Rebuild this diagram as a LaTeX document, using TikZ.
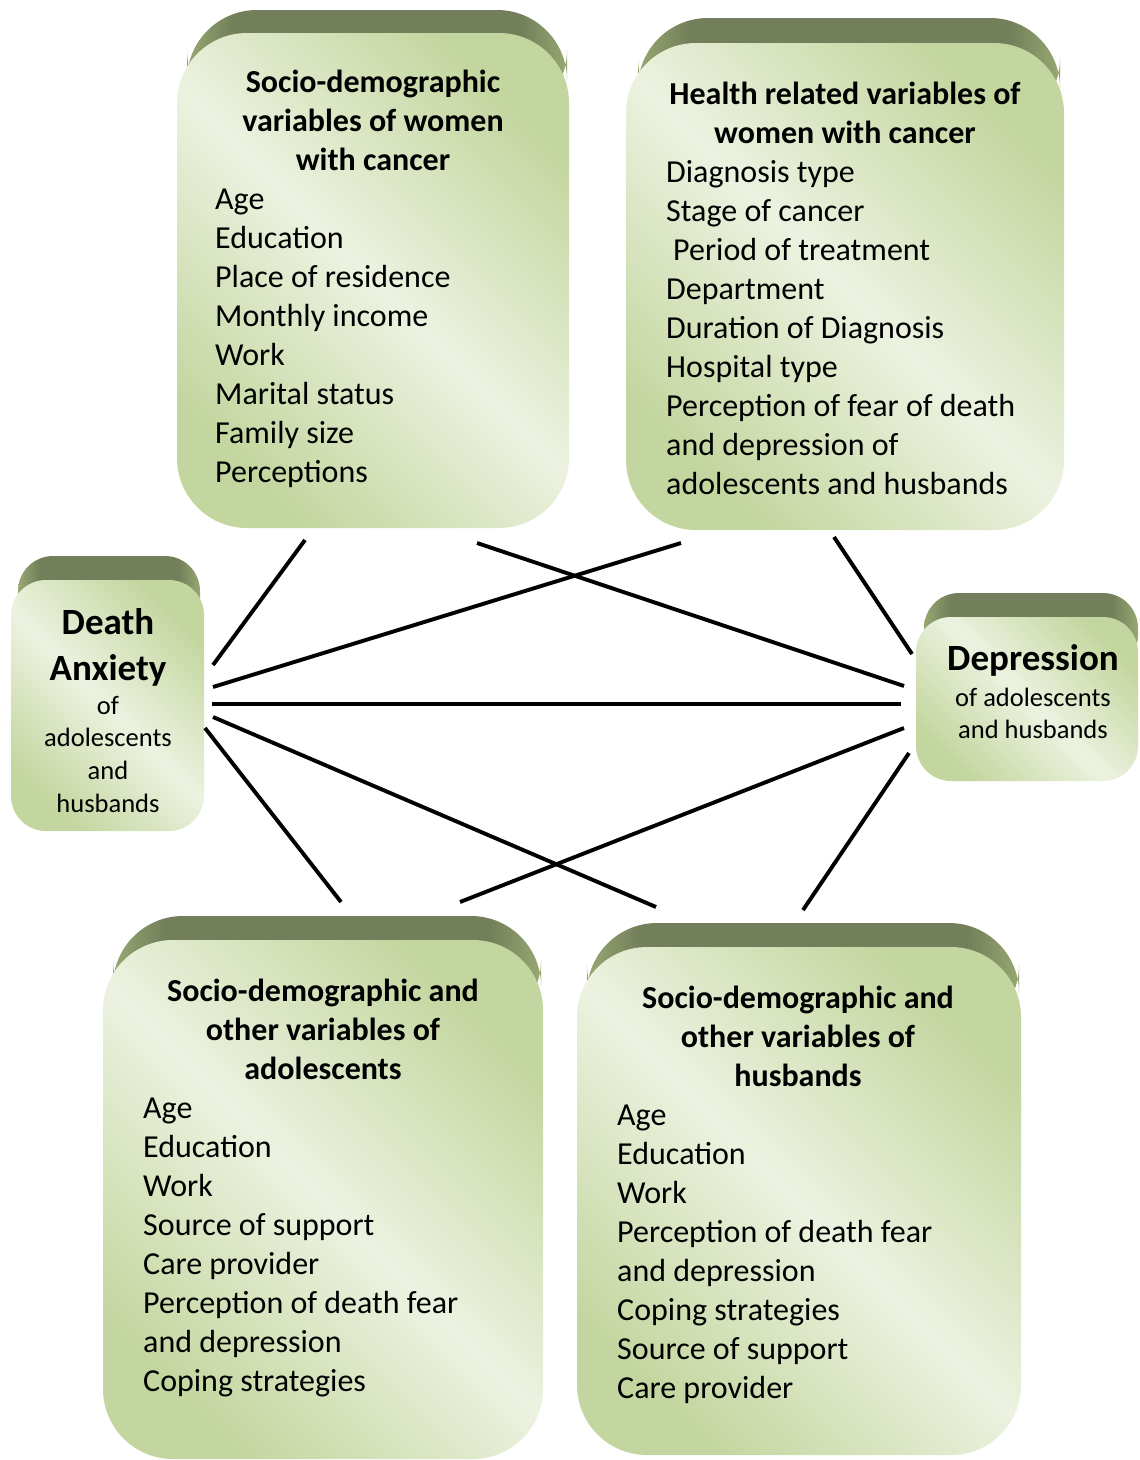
\documentclass[tikz,border=0pt]{standalone}
\usepackage{fontspec}
\setmainfont{Carlito}
\definecolor{glight}{HTML}{ECF2E0}
\definecolor{gdark}{HTML}{C4D69F}
\definecolor{tabdark}{HTML}{737F5A}
\definecolor{tabedge}{HTML}{97A872}
\pgfdeclarehorizontalshading{tabshade}{100bp}{color(0bp)=(tabedge); color(25bp)=(tabedge); color(31bp)=(tabdark); color(69bp)=(tabdark); color(75bp)=(tabedge); color(100bp)=(tabedge)}
\tikzset{
  panel/.style={rounded corners=#1, top color=gdark, bottom color=gdark, middle color=glight, shading angle=-45, inner sep=0pt, draw=none},
  tab/.style={rounded corners=#1, shading=tabshade, draw=none},
  item/.style={font=\fontsize{32}{39}\selectfont, inner sep=0pt, anchor=base west},
  head/.style={font=\fontsize{32}{39}\selectfont\bfseries, inner sep=0pt, anchor=base},
  bighead/.style={font=\fontsize{37}{46}\selectfont\bfseries, inner sep=0pt, anchor=base},
  sub/.style={font=\fontsize{26.5}{32.5}\selectfont, inner sep=0pt, anchor=base},
  conn/.style={line width=3.9pt, black}
}
\begin{document}
\begin{tikzpicture}[x=1pt,y=-1pt]
\useasboundingbox (0,0) rectangle (1140,1460);
% back tabs
\path[tab=70pt] (187,10) rectangle (567,120);
\path[tab=70pt] (638,18) rectangle (1060,128);
\path[tab=35pt] (18,556) rectangle (200,640);
\path[tab=35pt] (924,593) rectangle (1138,670);
\path[tab=70pt] (113,916) rectangle (541,1030);
\path[tab=70pt] (587,923) rectangle (1019,1035);
% front panels
\node[panel=70pt, minimum width=392pt, minimum height=495pt] (sdw) at (373,280.5) {};
\node[panel=70pt, minimum width=438pt, minimum height=487pt] (hrv) at (845,286.5) {};
\node[panel=35pt, minimum width=193pt, minimum height=251pt] (da) at (107.5,705.5) {};
\node[panel=35pt, minimum width=222pt, minimum height=164pt] (dep) at (1027,699) {};
\node[panel=70pt, minimum width=440pt, minimum height=519pt] (ado) at (323,1199.5) {};
\node[panel=70pt, minimum width=444pt, minimum height=508pt] (hus) at (799,1201) {};
% texts box 1
\foreach \t [count=\i from 0] in {Socio-demographic, variables of women, with cancer}
  \node[head] (h1-\i) at (373,{92+39*\i}) {\t};
\foreach \t [count=\i from 0] in {Age, Education, Place of residence, Monthly income, Work, Marital status, Family size, Perceptions}
  \node[item] (i1-\i) at (215,{209+39*\i}) {\t};
% texts box 2
\foreach \t [count=\i from 0] in {Health related variables of, women with cancer}
  \node[head] (h2-\i) at (845,{104+39*\i}) {\t};
\foreach \t [count=\i from 0] in {Diagnosis type, Stage of cancer, {\hspace*{7pt}Period of treatment}, Department, Duration of Diagnosis, Hospital type, Perception of fear of death, and depression of, adolescents and husbands}
  \node[item] (i2-\i) at (666,{182+39*\i}) {\t};
% box 3
\node[bighead] (h3-0) at (108,634) {Death};
\node[bighead] (h3-1) at (108,680) {Anxiety};
\foreach \t [count=\i from 0] in {of, adolescents, and, husbands}
  \node[sub] (s3-\i) at (108,{714+32.7*\i}) {\t};
% box 4
\node[bighead] (h4-0) at (1033,670) {Depression};
\node[sub] (s4-0) at (1033,706) {of adolescents};
\node[sub] (s4-1) at (1033,738) {and husbands};
% box 5
\foreach \t [count=\i from 0] in {Socio-demographic and, other variables of, adolescents}
  \node[head] (h5-\i) at (323,{1001+39*\i}) {\t};
\foreach \t [count=\i from 0] in {Age, Education, Work, Source of support, Care provider, Perception of death fear, and depression, Coping strategies}
  \node[item] (i5-\i) at (143,{1118+39*\i}) {\t};
% box 6
\foreach \t [count=\i from 0] in {Socio-demographic and, other variables of, husbands}
  \node[head] (h6-\i) at (798,{1008+39*\i}) {\t};
\foreach \t [count=\i from 0] in {Age, Education, Work, Perception of death fear, and depression, Coping strategies, Source of support, Care provider}
  \node[item] (i6-\i) at (617,{1125+39*\i}) {\t};
% connector end points
\coordinate (c1a) at (305,540); \coordinate (c1b) at (213,665);
\coordinate (c2a) at (681,543); \coordinate (c2b) at (213,687);
\coordinate (c3a) at (212,704); \coordinate (c3b) at (901,704);
\coordinate (c4a) at (477,543); \coordinate (c4b) at (904,686);
\coordinate (c5a) at (834,537); \coordinate (c5b) at (912,654);
\coordinate (c6a) at (205,728); \coordinate (c6b) at (341,902);
\coordinate (c7a) at (213,717); \coordinate (c7b) at (656,907);
\coordinate (c8a) at (904,728); \coordinate (c8b) at (460,902);
\coordinate (c9a) at (909,753); \coordinate (c9b) at (803,910);
\foreach \k in {1,...,9}
  \draw[conn] (c\k a) -- (c\k b);
\end{tikzpicture}
\end{document}
